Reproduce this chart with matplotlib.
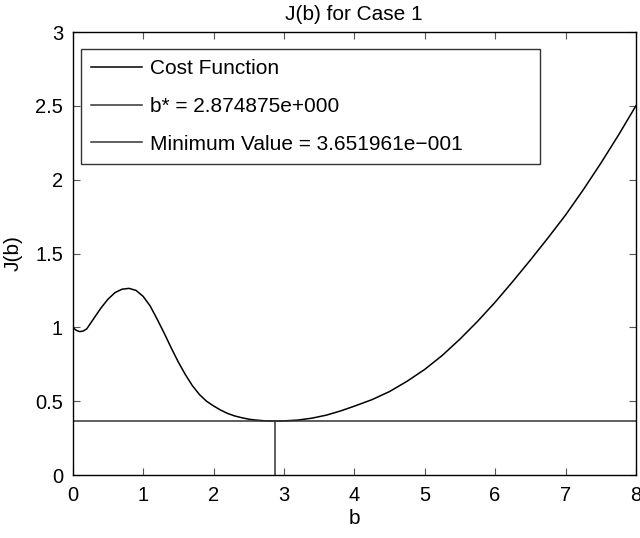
import matplotlib.pyplot as plt

plt.rcParams['font.family'] = ['Liberation Sans', 'DejaVu Sans']

# Cost function J(b)
b_vals = [0.0, 0.05, 0.1, 0.15, 0.2, 0.3, 0.4, 0.5, 0.6, 0.7, 0.8, 0.9, 1.0,
          1.1, 1.2, 1.3, 1.4, 1.5, 1.6, 1.7, 1.8, 1.9, 2.0, 2.1, 2.2, 2.3, 2.4,
          2.5, 2.6, 2.7, 2.8, 2.875, 3.0, 3.2, 3.4, 3.6, 3.8, 4.0, 4.25, 4.5,
          4.75, 5.0, 5.25, 5.5, 5.75, 6.0, 6.25, 6.5, 6.75, 7.0, 7.25, 7.5,
          7.75, 8.0]
j_vals = [1.0, 0.98, 0.971, 0.975, 0.99, 1.06, 1.13, 1.19, 1.235, 1.258, 1.264,
          1.25, 1.21, 1.145, 1.055, 0.96, 0.86, 0.765, 0.68, 0.605, 0.545, 0.50,
          0.468, 0.44, 0.417, 0.40, 0.388, 0.378, 0.372, 0.368, 0.3656, 0.3652,
          0.3665, 0.372, 0.385, 0.405, 0.433, 0.466, 0.51, 0.565, 0.635, 0.715,
          0.81, 0.92, 1.04, 1.17, 1.31, 1.455, 1.605, 1.76, 1.93, 2.11, 2.30,
          2.50]

b_star = 2.874875
j_min = 0.3651961

fig = plt.figure(figsize=(6.4, 5.38), dpi=100)
ax = fig.add_axes([0.1136, 0.1171, 0.880, 0.8234])

ax.plot(b_vals, j_vals, color='black', lw=1.1, label='Cost Function')
ax.plot([b_star, b_star], [0, j_min], color='#333333', lw=1.1,
        label='b* = 2.874875e+000')
ax.plot([0, 8], [j_min, j_min], color='#333333', lw=1.1,
        label='Minimum Value = 3.651961e\u2212001')

ax.set_xlim(0, 8)
ax.set_ylim(0, 3)
ax.set_xticks(range(0, 9))
ax.set_yticks([0, 0.5, 1, 1.5, 2, 2.5, 3])
ax.set_yticklabels(['0', '0.5', '1', '1.5', '2', '2.5', '3'])
ax.tick_params(direction='in', top=True, right=True, labelsize=14.5, length=5,
               color='#555555')
ax.tick_params(axis='x', pad=8)
ax.tick_params(axis='y', pad=7)
for s in ax.spines.values():
    s.set_linewidth(1.0)

ax.set_title('J(b) for Case 1', fontsize=15, pad=9)
ax.set_xlabel('b', fontsize=15, labelpad=3)
ax.set_ylabel('J(b)', fontsize=15, labelpad=9)

leg = ax.legend(loc='upper left', fontsize=15, frameon=True, fancybox=False,
                edgecolor='black', handlelength=2.45, handletextpad=0.35,
                borderpad=0.5, labelspacing=0.89, borderaxespad=0,
                mode='expand', bbox_to_anchor=(0.0147, 0.5, 0.815, 0.4616))
leg.get_frame().set_linewidth(1.0)

fig.savefig('out.png', dpi=100)
